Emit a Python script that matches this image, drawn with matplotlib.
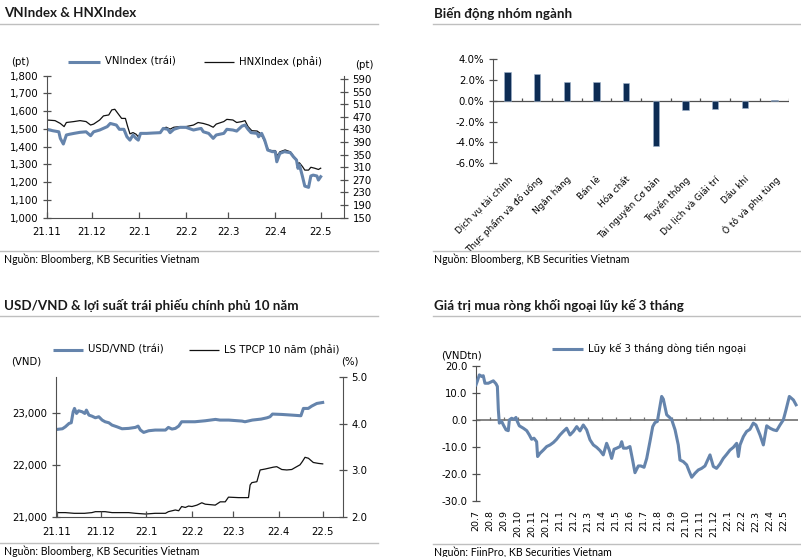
import matplotlib
matplotlib.use("Agg")
import matplotlib.pyplot as plt
from matplotlib.lines import Line2D
from matplotlib.ticker import FuncFormatter
import numpy as np

W, H = 801, 557
BLUE = '#6584AC'
NAVY = '#0D2C54'
GRID = '#BFBFBF'
AXC = '#505050'
TICKFONT = 7.3
plt.rcParams['font.family'] = ['DejaVu Sans']

# ---- data: VNIndex & HNXIndex (days since 2021-11-01) ----
vn_day = [0, 4, 8, 9, 11, 13, 15, 18, 22, 26, 29, 31, 35, 40, 42, 46, 48, 51, 53, 55,
          57, 59, 60.5, 62, 66, 70, 75, 77, 80, 81.5, 84, 88, 92, 97, 99, 102, 103.5,
          107, 110, 112, 117, 119, 123, 125.5, 129, 131, 133, 135, 139, 140, 142, 144,
          146, 149, 151, 152, 154, 157, 161, 163, 165, 166, 167, 169, 170.5, 173, 174.5,
          176, 178.5, 179.5, 181]
vn_val = [1498, 1490, 1484, 1447, 1415, 1466, 1470, 1475, 1481, 1484, 1462, 1484, 1494,
          1513, 1531, 1522, 1498, 1498, 1456, 1437, 1466, 1447, 1437, 1475, 1475, 1477,
          1479, 1503, 1498, 1479, 1498, 1509, 1509, 1494, 1498, 1503, 1484, 1475, 1447,
          1466, 1475, 1498, 1494, 1488, 1516, 1522, 1498, 1479, 1475, 1456, 1475, 1437,
          1381, 1372, 1372, 1315, 1362, 1372, 1366, 1343, 1325, 1278, 1297, 1231, 1178,
          1171, 1235, 1240, 1235, 1212, 1231]
hnx_day = [0, 5.5, 9, 11.5, 13, 18, 22, 26, 29, 31, 35, 37.5, 41, 43, 45, 47, 49.5, 52,
           53.5, 55, 57, 59, 60.5, 62, 70, 75, 77, 79, 81.5, 84, 88, 92, 97, 100, 103.5,
           107, 110, 112, 117, 119, 123, 125.5, 129, 131, 133, 135.5, 139, 141, 143, 145,
           146.5, 148.5, 151, 152.5, 154, 157.5, 161, 163, 165, 166, 167, 169, 170.5, 173,
           174.5, 177, 179.5, 181]
hnx_val = [460, 458, 449, 439, 452, 455, 458, 455, 444, 447, 460, 473, 476, 492, 494, 481,
           465, 465, 439, 416, 420, 415, 407, 418, 418, 418, 434, 437, 431, 437, 439, 439,
           444, 452, 449, 444, 437, 447, 455, 462, 460, 452, 455, 458, 439, 426, 425, 418,
           402, 381, 365, 363, 363, 346, 359, 365, 359, 346, 335, 322, 324, 312, 301, 301,
           310, 307, 303, 307]

# ---- data: sector performance ----
sectors = ['Dịch vụ tài chính', 'Thực phẩm và đồ uống', 'Ngân hàng', 'Bán lẻ', 'Hóa chất',
           'Tài nguyên Cơ bản', 'Truyền thông', 'Du lịch và Giải trí', 'Dầu khí',
           'Ô tô và phụ tùng']
sector_chg = [2.79, 2.63, 1.79, 1.79, 1.73, -4.33, -0.83, -0.74, -0.64, 0.08]

# ---- data: USD/VND & 10Y gov bond yield (days since 2021-11-01) ----
fx_day = [0.5, 4, 6, 8.5, 10, 11.3, 12.2, 13.6, 15, 17.4, 19.2, 20.3, 22, 24, 26.4, 28.7,
          31, 33, 35.5, 37.7, 41, 44.5, 49, 53.6, 55.4, 57, 59.2, 62.6, 67, 74, 76, 78.4,
          80.7, 83, 85, 90, 94, 101, 108, 111, 117, 126, 128, 133, 139, 143, 145, 146.7,
          153, 160, 166, 167.7, 171, 173.3, 176.8, 180.8]
fx_val = [22682, 22694, 22732, 22796, 22809, 23019, 23083, 22987, 23038, 23019, 22987,
          23051, 22955, 22936, 22904, 22924, 22860, 22828, 22809, 22764, 22732, 22694,
          22701, 22720, 22745, 22669, 22624, 22656, 22669, 22669, 22720, 22688, 22701,
          22745, 22828, 22828, 22828, 22847, 22873, 22860, 22860, 22841, 22828, 22860,
          22879, 22904, 22924, 22975, 22968, 22955, 22943, 23083, 23083, 23127, 23178,
          23197]
bond_day = [0.5, 6, 12, 19, 24, 26.4, 33, 37.7, 49, 53.6, 60.4, 67, 74, 76, 80.7, 83, 85,
            87.5, 89.7, 92, 95.4, 98.7, 101, 107.8, 111.2, 114.6, 116.8, 123.6, 130.4,
            131.5, 132.7, 136.1, 138.3, 141.7, 147.3, 149.6, 153, 156.4, 159.8, 162,
            165.4, 167, 168.8, 171.1, 174.4, 177.9, 180.8]
bond_val = [2.10, 2.10, 2.085, 2.085, 2.10, 2.12, 2.12, 2.10, 2.10, 2.085, 2.07, 2.085,
            2.085, 2.12, 2.156, 2.14, 2.23, 2.21, 2.24, 2.23, 2.26, 2.31, 2.28, 2.26, 2.33,
            2.33, 2.43, 2.42, 2.42, 2.69, 2.74, 2.76, 3.01, 3.03, 3.07, 3.08, 3.02, 3.01,
            3.02, 3.06, 3.12, 3.19, 3.28, 3.26, 3.17, 3.15, 3.14]
month_labels_a = ['21.11', '21.12', '22.1', '22.2', '22.3', '22.4', '22.5']
month_start_a = [0, 30, 61, 92, 120, 151, 181]

# ---- data: foreign net buying, 3M cumulative (months since 2020-07) ----
flow_m = [0.0, 0.09, 0.24, 0.41, 0.52, 0.64, 0.88, 1.0, 1.24, 1.43, 1.53, 1.60, 1.67,
          1.84, 1.96, 2.15, 2.31, 2.39, 2.55, 2.72, 2.86, 2.96, 3.10, 3.39, 3.63, 3.82,
          3.98, 4.15, 4.34, 4.41, 4.58, 4.82, 5.06, 5.30, 5.54, 5.77, 6.01, 6.25, 6.49,
          6.73, 6.97, 7.21, 7.44, 7.68, 7.92, 8.16, 8.40, 8.64, 8.88, 9.11, 9.35, 9.54,
          9.71, 9.88, 10.07, 10.31, 10.43, 10.55, 10.79, 11.02, 11.21, 11.38, 11.62,
          11.80, 12.03, 12.22, 12.45, 12.65, 12.81, 12.98, 13.29, 13.41, 13.65, 13.84,
          14.0, 14.25, 14.48, 14.60, 14.84, 15.08, 15.27, 15.44, 15.68, 15.91, 16.15,
          16.39, 16.75, 16.99, 17.22, 17.46, 17.70, 17.94, 18.18, 18.42, 18.66, 18.78,
          18.90, 19.14, 19.37, 19.61, 19.85, 20.04, 20.33, 20.57, 20.81, 21.05, 21.29,
          21.52, 21.76, 22.0, 22.19, 22.43, 22.72, 22.91]
flow_val = [13.0, 14.3, 16.7, 16.1, 16.4, 13.6, 13.6, 13.9, 14.5, 13.4, 12.4, 3.7, -1.2,
            -0.6, -1.9, -3.7, -4.0, 0.0, 0.6, 0.2, 0.9, -0.6, -2.2, -3.1, -4.0, -5.6, -7.2,
            -6.8, -8.1, -13.6, -12.4, -11.2, -9.9, -9.3, -8.4, -7.2, -5.6, -4.3, -3.1,
            -5.6, -4.3, -2.5, -4.1, -1.9, -3.7, -7.4, -9.3, -10.2, -11.4, -13.0, -8.7,
            -11.2, -14.3, -10.9, -10.5, -9.9, -8.1, -10.5, -10.5, -9.9, -14.9, -19.6,
            -17.1, -17.1, -17.6, -14.3, -8.1, -2.5, -1.0, -0.6, 8.7, 7.7, 1.9, 1.0, 0.2,
            -3.7, -9.3, -14.9, -15.5, -16.7, -19.2, -21.3, -19.8, -18.6, -18.0, -17.1,
            -13.0, -17.3, -18.0, -16.4, -14.3, -12.8, -11.2, -10.2, -8.7, -13.6, -9.3,
            -6.2, -4.3, -3.5, -1.2, -1.9, -5.6, -9.3, -2.2, -3.1, -3.7, -4.0, -1.9, 0.0,
            3.7, 8.7, 7.4, 5.6]
month_labels_b = ['20.7', '20.8', '20.9', '20.10', '20.11', '20.12', '21.1', '21.2',
                  '21.3', '21.4', '21.5', '21.6', '21.7', '21.8', '21.9', '21.10', '21.11',
                  '21.12', '22.1', '22.2', '22.3', '22.4', '22.5']


def fx(x):
    return x / W


def fy(y):
    return 1 - y / H


def add_axes(left, top, right, bottom):
    return fig.add_axes([fx(left), fy(bottom), (right - left) / W, (bottom - top) / H])


def hline(x0, x1, y, color=GRID, lw=1.0):
    fig.add_artist(Line2D([fx(x0), fx(x1)], [fy(y), fy(y)], color=color, lw=lw))


def legend_item(x0, x1, y, color, lw, text):
    fig.add_artist(Line2D([fx(x0), fx(x1)], [fy(y), fy(y)], color=color, lw=lw,
                          solid_capstyle='butt'))
    fig.text(fx(x1 + 5), fy(y), text, fontsize=TICKFONT, va='center', ha='left')


def title(x, y, text):
    fig.text(fx(x), fy(y), text, fontsize=9.6, fontweight='bold', family='Lato',
             va='center', ha='left', color='#1a1a1a')


def source(x, y, text):
    fig.text(fx(x), fy(y), text, fontsize=7.6, family='Lato', va='center', ha='left')


def style(ax):
    for s in ax.spines.values():
        s.set_color(AXC)
    ax.tick_params(labelsize=TICKFONT, color=AXC, width=0.9)
    ax.set_facecolor('none')


fig = plt.figure(figsize=(W / 100, H / 100), dpi=100)

# ---------------- panel 1 ----------------
title(4, 13, 'VNIndex & HNXIndex')
hline(0, 378, 24)
hline(0, 378, 251)
source(4, 259, 'Nguồn: Bloomberg, KB Securities Vietnam')

ax1 = add_axes(46.7, 75.7, 344.3, 217.7)
ax1r = ax1.twinx()
ax1r.plot(hnx_day, hnx_val, color='#111111', lw=0.9)
ax1.plot(vn_day, vn_val, color=BLUE, lw=2.2)
ax1.set_zorder(ax1r.get_zorder() + 1)
ax1.patch.set_visible(False)
ax1.set_xlim(0, 196.6)
ax1.set_ylim(1000, 1800)
ax1.set_yticks(np.arange(1000, 1801, 100))
ax1.yaxis.set_major_formatter(FuncFormatter(lambda v, p: f'{v:,.0f}'))
ax1r.set_ylim(150, 600.5)
ax1r.set_yticks(np.arange(150, 591, 40))
ax1.set_xticks(month_start_a)
ax1.set_xticklabels(month_labels_a)
for a in (ax1, ax1r):
    style(a)
    a.spines['top'].set_visible(False)
ax1.spines['right'].set_visible(False)
ax1r.spines['left'].set_visible(False)
ax1r.spines['bottom'].set_visible(False)
ax1.tick_params(axis='x', direction='in', length=4, pad=7)
ax1.tick_params(axis='y', direction='inout', length=6, pad=3)
ax1r.tick_params(axis='y', direction='inout', length=6, pad=3)
fig.text(fx(20), fy(62), '(pt)', fontsize=TICKFONT, ha='center', va='center')
fig.text(fx(364), fy(65), '(pt)', fontsize=TICKFONT, ha='center', va='center')
legend_item(68, 100, 62, BLUE, 2.2, 'VNIndex (trái)')
legend_item(204, 234, 62, '#111111', 0.9, 'HNXIndex (phải)')

# ---------------- panel 2 ----------------
title(434, 13, 'Biến động nhóm ngành')
hline(433, 801, 24)
hline(433, 801, 251)
source(434, 259, 'Nguồn: Bloomberg, KB Securities Vietnam')

ax2 = add_axes(492.7, 59.3, 789.3, 163.3)
pos = np.arange(len(sectors))
ax2.bar(pos, sector_chg, width=0.22, color=NAVY, edgecolor='#9fb3cc', linewidth=0.4,
        zorder=3)
ax2.set_xlim(-0.5, len(sectors) - 0.5)
ax2.set_ylim(-6, 4)
ax2.set_yticks(np.arange(-6, 4.1, 2))
ax2.yaxis.set_major_formatter(FuncFormatter(lambda v, p: f'{v:.1f}%'))
style(ax2)
for s in ('top', 'right', 'bottom'):
    ax2.spines[s].set_visible(False)
ax2.axhline(0, color=AXC, lw=0.9, zorder=2)
ax2.vlines(pos[:-1] + 0.5, 0, 0.29, color=AXC, lw=0.9)
ax2.vlines([len(sectors) - 0.5], 0, 0.29, color=AXC, lw=0.9)
ax2.set_xticks(pos)
ax2.set_xticklabels(sectors, rotation=45, ha='right', rotation_mode='anchor',
                    fontsize=6.5)
ax2.tick_params(axis='x', length=0, pad=8)
ax2.tick_params(axis='y', direction='inout', length=6, pad=3)

# ---------------- panel 3 ----------------
title(4, 305, 'USD/VND & lợi suất trái phiếu chính phủ 10 năm')
hline(0, 378, 316)
hline(0, 378, 543)
source(4, 551, 'Nguồn: Bloomberg, KB Securities Vietnam')

ax3 = add_axes(55.5, 376.7, 343, 517.3)
ax3r = ax3.twinx()
ax3r.plot(bond_day, bond_val, color='#111111', lw=0.9)
ax3.plot(fx_day, fx_val, color=BLUE, lw=2.2)
ax3.set_zorder(ax3r.get_zorder() + 1)
ax3.patch.set_visible(False)
ax3.set_xlim(-0.7, 194.6)
ax3.set_ylim(21000, 23690)
ax3.set_yticks([21000, 22000, 23000])
ax3.yaxis.set_major_formatter(FuncFormatter(lambda v, p: f'{v:,.0f}'))
ax3r.set_ylim(2.0, 5.0)
ax3r.set_yticks([2.0, 3.0, 4.0, 5.0])
ax3r.yaxis.set_major_formatter(FuncFormatter(lambda v, p: f'{v:.1f}'))
ax3.set_xticks(month_start_a)
ax3.set_xticklabels(month_labels_a)
for a in (ax3, ax3r):
    style(a)
    a.spines['top'].set_visible(False)
ax3.spines['right'].set_visible(False)
ax3r.spines['left'].set_visible(False)
ax3r.spines['bottom'].set_visible(False)
ax3.tick_params(axis='x', direction='in', length=4, pad=7)
ax3.tick_params(axis='y', direction='inout', length=6, pad=3)
ax3r.tick_params(axis='y', direction='inout', length=6, pad=3)
fig.text(fx(26), fy(362), '(VND)', fontsize=TICKFONT, ha='center', va='center')
fig.text(fx(350), fy(362), '(%)', fontsize=TICKFONT, ha='center', va='center')
legend_item(53, 83, 350, BLUE, 2.2, 'USD/VND (trái)')
legend_item(189, 219, 350, '#111111', 0.9, 'LS TPCP 10 năm (phải)')

# ---------------- panel 4 ----------------
title(434, 305, 'Giá trị mua ròng khối ngoại lũy kế 3 tháng')
hline(433, 801, 316)
hline(433, 801, 544)
source(434, 552, 'Nguồn: FiinPro, KB Securities Vietnam')

ax4 = add_axes(476, 366, 798, 500.7)
ax4.plot(flow_m, flow_val, color=BLUE, lw=2.2, zorder=3)
ax4.set_xlim(0, 23.05)
ax4.set_ylim(-30, 20)
ax4.set_yticks(np.arange(-30, 21, 10))
ax4.yaxis.set_major_formatter(FuncFormatter(lambda v, p: f'{v:.1f}'))
style(ax4)
for s in ('top', 'right', 'bottom'):
    ax4.spines[s].set_visible(False)
ax4.axhline(0, color='#707070', lw=1.2, zorder=2)
ticks_b = np.arange(len(month_labels_b))
ax4.vlines(ticks_b[1:], 0, 1.2, color='#707070', lw=0.9)
ax4.set_xticks(ticks_b)
ax4.set_xticklabels(month_labels_b, rotation=90, ha='center', va='top', fontsize=6.8)
ax4.tick_params(axis='x', length=0, pad=7)
ax4.tick_params(axis='y', direction='inout', length=6, pad=3)
fig.text(fx(462), fy(355), '(VNDtn)', fontsize=TICKFONT, ha='center', va='center')
legend_item(552, 583, 349, BLUE, 2.2, 'Lũy kế 3 tháng dòng tiền ngoại')

fig.savefig('out.png', dpi=100)
